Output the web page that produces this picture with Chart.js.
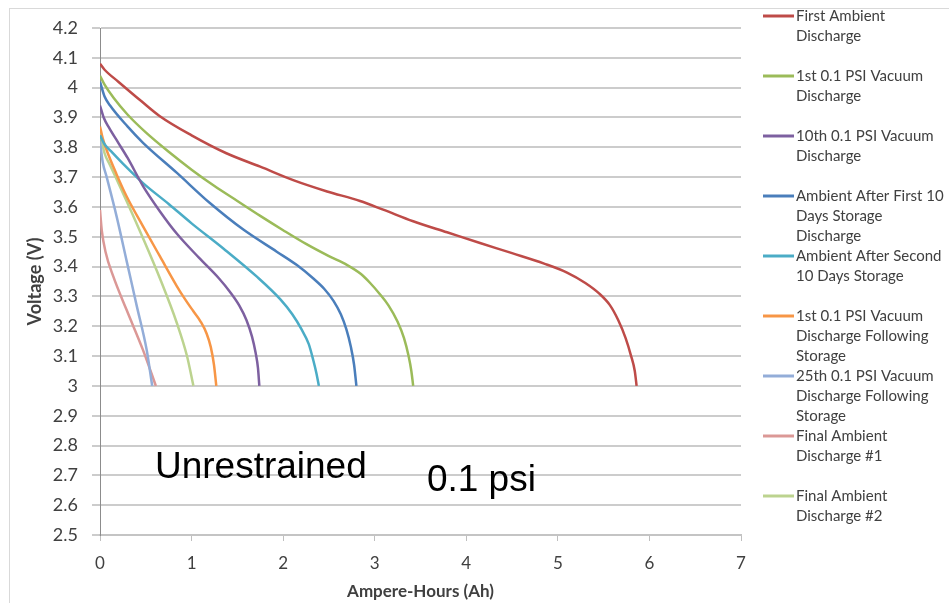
<!DOCTYPE html>
<html>
<head>
<meta charset="utf-8">
<script src="https://cdn.jsdelivr.net/npm/chart.js"></script>
<style>
  html, body { margin: 0; padding: 0; background: #fff; }
  #wrap { position: relative; width: 949px; height: 603px; }
</style>
</head>
<body>
<div id="wrap"><canvas id="myChart"></canvas></div>
<script>
// Legend names (already wrapped the way the original legend shows them)
var seriesNames = [
  ['First Ambient', 'Discharge'],
  ['1st 0.1 PSI Vacuum', 'Discharge'],
  ['10th 0.1 PSI Vacuum', 'Discharge'],
  ['Ambient After First 10', 'Days Storage', 'Discharge'],
  ['Ambient After Second', '10 Days Storage'],
  ['1st 0.1 PSI Vacuum', 'Discharge Following', 'Storage'],
  ['25th 0.1 PSI Vacuum', 'Discharge Following', 'Storage'],
  ['Final Ambient', 'Discharge #1'],
  ['Final Ambient', 'Discharge #2']
];
var seriesColors = ['#BE4B48', '#9BBB59', '#7D60A0', '#4A7EBB', '#4BACC6',
                    '#F79646', '#93ADD8', '#DB9896', '#BCD38F'];

// Ampere-hours / voltage per discharge run
var firstAmbientAh = [0, 0.05, 0.2, 0.45, 0.65, 1.0, 1.38, 1.75, 2.11, 2.48, 2.84, 3.1, 3.42, 3.79, 4.15, 4.5, 4.85, 5.1, 5.3, 5.45, 5.57, 5.66, 5.74, 5.8, 5.84, 5.86];
var firstAmbientV  = [4.08, 4.06, 4.02, 3.955, 3.905, 3.84, 3.78, 3.735, 3.69, 3.652, 3.62, 3.59, 3.552, 3.515, 3.479, 3.445, 3.41, 3.38, 3.345, 3.31, 3.27, 3.22, 3.16, 3.10, 3.05, 3.0];

var vacuum1Ah = [0, 0.05, 0.15, 0.3, 0.5, 0.75, 1.0, 1.25, 1.5, 1.75, 2.0, 2.25, 2.5, 2.7, 2.85, 2.95, 3.05, 3.15, 3.25, 3.32, 3.37, 3.4, 3.42];
var vacuum1V  = [4.04, 4.01, 3.965, 3.91, 3.85, 3.785, 3.725, 3.67, 3.62, 3.57, 3.522, 3.476, 3.435, 3.405, 3.375, 3.345, 3.31, 3.27, 3.215, 3.16, 3.10, 3.05, 3.0];

var vacuum10Ah = [0, 0.04, 0.1, 0.2, 0.3, 0.47, 0.655, 0.84, 1.08, 1.3, 1.42, 1.52, 1.6, 1.66, 1.7, 1.725, 1.74];
var vacuum10V  = [3.94, 3.9, 3.865, 3.815, 3.765, 3.67, 3.585, 3.51, 3.43, 3.36, 3.315, 3.27, 3.22, 3.165, 3.11, 3.06, 3.0];

var storage10Ah = [0, 0.05, 0.11, 0.3, 0.47, 0.84, 1.2, 1.565, 1.93, 2.15, 2.33, 2.45, 2.55, 2.63, 2.69, 2.74, 2.775, 2.80];
var storage10V  = [4.02, 3.97, 3.94, 3.87, 3.815, 3.714, 3.613, 3.524, 3.45, 3.405, 3.36, 3.325, 3.285, 3.24, 3.19, 3.13, 3.07, 3.0];

var storage20Ah = [0, 0.05, 0.11, 0.25, 0.47, 0.75, 1.0, 1.35, 1.71, 1.97, 2.1, 2.2, 2.28, 2.33, 2.365, 2.39];
var storage20V  = [3.84, 3.81, 3.79, 3.745, 3.68, 3.61, 3.545, 3.46, 3.367, 3.29, 3.24, 3.19, 3.14, 3.085, 3.04, 3.0];

var vacStor1Ah = [0, 0.03, 0.073, 0.18, 0.29, 0.47, 0.655, 0.84, 0.93, 1.02, 1.1, 1.165, 1.21, 1.245, 1.27];
var vacStor1V  = [3.87, 3.83, 3.79, 3.71, 3.636, 3.535, 3.434, 3.334, 3.29, 3.25, 3.215, 3.175, 3.13, 3.07, 3.0];

var vacStor25Ah = [0, 0.03, 0.073, 0.18, 0.29, 0.40, 0.51, 0.57];
var vacStor25V  = [3.82, 3.75, 3.70, 3.57, 3.42, 3.27, 3.12, 3.0];

var final1Ah = [0, 0.02, 0.06, 0.145, 0.29, 0.47, 0.61];
var final1V  = [3.59, 3.52, 3.45, 3.367, 3.255, 3.12, 3.0];

var final2Ah = [0, 0.05, 0.11, 0.29, 0.47, 0.655, 0.84, 0.95, 1.02];
var final2V  = [3.85, 3.78, 3.74, 3.62, 3.495, 3.36, 3.21, 3.10, 3.0];

var seriesAh = [firstAmbientAh, vacuum1Ah, vacuum10Ah, storage10Ah, storage20Ah, vacStor1Ah, vacStor25Ah, final1Ah, final2Ah];
var seriesV  = [firstAmbientV, vacuum1V, vacuum10V, storage10V, storage20V, vacStor1V, vacStor25V, final1V, final2V];

// Axis ranges
var xMin = 0, xMax = 7, xStep = 1;
var yMin = 2.5, yMax = 4.2, yStep = 0.1;

// Text labels placed inside the plot
var notes = [
  { text: 'Unrestrained', ah: 0.6, v: 2.725 },
  { text: '0.1 psi', ah: 3.57, v: 2.683 }
];

var datasets = seriesNames.map(function (name, i) {
  return {
    label: name.join(' '),
    data: seriesAh[i].map(function (x, j) { return { x: x, y: seriesV[i][j] }; }),
    borderColor: seriesColors[i],
    backgroundColor: seriesColors[i],
    borderWidth: 2.5,
    pointRadius: 0,
    fill: false,
    cubicInterpolationMode: 'monotone'
  };
});

// light frame around the chart object
var framePlugin = {
  id: 'frame',
  beforeDraw: function (chart) {
    var ctx = chart.ctx;
    ctx.save();
    ctx.fillStyle = '#fff';
    ctx.fillRect(0, 0, chart.width, chart.height);
    ctx.strokeStyle = '#d9d9d9';
    ctx.lineWidth = 1;
    ctx.strokeRect(9.5, 8.5, chart.width + 20, chart.height + 20);
    ctx.restore();
  }
};

// legend with wrapped names, one entry every 60px
var legendPlugin = {
  id: 'wrappedLegend',
  afterDraw: function (chart) {
    var ctx = chart.ctx;
    ctx.save();
    ctx.font = '15px Lato';
    ctx.fillStyle = '#404040';
    ctx.textBaseline = 'middle';
    ctx.textAlign = 'left';
    chart.data.datasets.forEach(function (ds, i) {
      var y = 16 + i * 60;
      ctx.strokeStyle = ds.borderColor;
      ctx.lineWidth = 3;
      ctx.beginPath();
      ctx.moveTo(763, y);
      ctx.lineTo(794, y);
      ctx.stroke();
      seriesNames[i].forEach(function (line, j) {
        ctx.fillText(line, 796, y + j * 20);
      });
    });
    ctx.restore();
  }
};

var notesPlugin = {
  id: 'notes',
  afterDatasetsDraw: function (chart) {
    var ctx = chart.ctx;
    var xs = chart.scales.x, ys = chart.scales.y;
    ctx.save();
    ctx.font = '37px "Liberation Sans", Arial, sans-serif';
    ctx.fillStyle = '#000';
    ctx.textBaseline = 'middle';
    ctx.textAlign = 'left';
    notes.forEach(function (n) {
      ctx.fillText(n.text, xs.getPixelForValue(n.ah), ys.getPixelForValue(n.v));
    });
    ctx.restore();
  }
};

var ctx = document.getElementById('myChart').getContext('2d');
var myChart = new Chart(ctx, {
  type: 'line',
  data: { datasets: datasets },
  options: {
    responsive: true,
    maintainAspectRatio: false,
    animation: false,
    layout: { padding: { top: 28, right: 208, bottom: 0, left: 0 } },
    plugins: {
      legend: { display: false },
      tooltip: { enabled: false }
    },
    scales: {
      x: {
        type: 'linear',
        min: xMin,
        max: xMax,
        ticks: { stepSize: xStep, padding: 12, color: '#404040', font: { family: 'Lato', size: 17 } },
        grid: { drawOnChartArea: false, drawTicks: true, tickLength: 6, color: '#bfbfbf' },
        border: { display: true, color: '#c4c4c4', width: 2 },
        title: { display: true, text: 'Ampere-Hours (Ah)', color: '#404040',
                 font: { family: 'Lato', size: 17, weight: 'bold' }, padding: { top: 0, bottom: 1 } },
        afterFit: function (s) { s.height = 68; }
      },
      y: {
        min: yMin,
        max: yMax,
        ticks: {
          stepSize: yStep,
          padding: 14,
          color: '#404040',
          font: { family: 'Lato', size: 18 },
          callback: function (v) { return String(Number(v.toFixed(1))); }
        },
        grid: { color: '#cccccc', lineWidth: 2, tickLength: 8 },
        border: { display: true, color: '#8c8c8c', width: 1 },
        title: { display: true, text: 'Voltage (V)', color: '#404040',
                 font: { family: 'Lato', size: 18, weight: 'bold' }, padding: { top: 24, bottom: 0 } },
        afterFit: function (s) { s.width = 100; }
      }
    }
  },
  plugins: [framePlugin, legendPlugin, notesPlugin]
});
</script>
</body>
</html>
